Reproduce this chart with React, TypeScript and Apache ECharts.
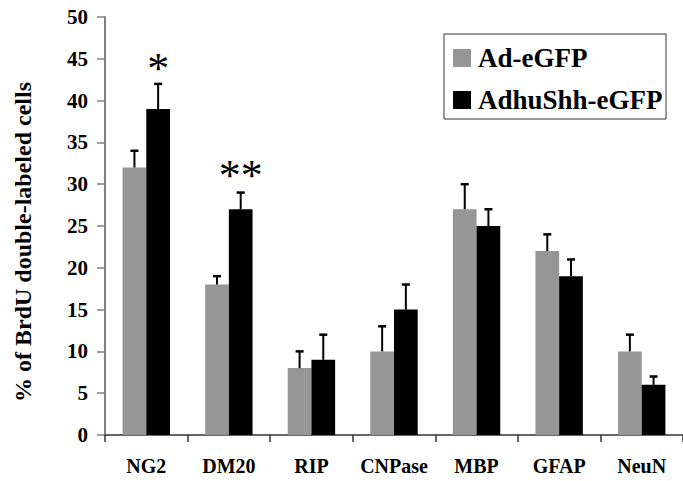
import React, { useEffect, useRef } from "react";
import * as echarts from "echarts";

const categories = ["NG2", "DM20", "RIP", "CNPase", "MBP", "GFAP", "NeuN"];
const seriesNames = ["Ad-eGFP", "AdhuShh-eGFP"];
const adEgfp = [32, 18, 8, 10, 27, 22, 10];
const adEgfpErr = [2, 1, 2, 3, 3, 2, 2];
const shhEgfp = [39, 27, 9, 15, 25, 19, 6];
const shhEgfpErr = [3, 2, 3, 3, 2, 2, 1];
const sigMarks = ["*", "**", "", "", "", "", ""];
const sigLevels = [44.5, 31.7, 0, 0, 0, 0, 0];
const yTicks = [0, 5, 10, 15, 20, 25, 30, 35, 40, 45, 50];
const yTitle = "% of BrdU double-labeled cells";

const F = "Liberation Serif";
const BAR_FRAC = 0.287;
const COLORS = ["#969696", "#000000"];

function baseOption() {
  const errData: any[] = [];
  categories.forEach((_, i) => {
    errData.push([i, adEgfp[i], adEgfp[i] + adEgfpErr[i], -1]);
    errData.push([i, shhEgfp[i], shhEgfp[i] + shhEgfpErr[i], 1]);
  });
  return {
    animation: false,
    grid: { left: 105, right: -8, top: 17, bottom: 46, containLabel: false },
    xAxis: {
      type: "category",
      data: categories,
      axisLine: { lineStyle: { color: "#333", width: 1.5 } },
      axisTick: { show: true, length: 7, lineStyle: { color: "#333", width: 1.5 } },
      axisLabel: { show: false },
      splitLine: { show: false },
    },
    yAxis: {
      type: "value",
      min: yTicks[0],
      max: yTicks[yTicks.length - 1],
      interval: yTicks[1] - yTicks[0],
      axisLine: { show: true, lineStyle: { color: "#808080", width: 2 } },
      axisTick: { show: true, length: 8, lineStyle: { color: "#808080", width: 1.5 } },
      axisLabel: { show: false },
      splitLine: { show: false },
    },
    series: [
      {
        name: seriesNames[0],
        type: "bar",
        data: adEgfp,
        barWidth: BAR_FRAC * 100 + "%",
        barGap: "0%",
        itemStyle: { color: COLORS[0] },
      },
      {
        name: seriesNames[1],
        type: "bar",
        data: shhEgfp,
        barWidth: BAR_FRAC * 100 + "%",
        barGap: "0%",
        itemStyle: { color: COLORS[1] },
      },
      {
        type: "custom",
        name: "err",
        data: errData,
        encode: { x: 0, y: [1, 2] },
        z: 3,
        renderItem: (params: any, api: any) => {
          const ci = api.value(0);
          const base = api.coord([ci, api.value(1)]);
          const top = api.coord([ci, api.value(2)]);
          const band = api.size([1, 0])[0];
          const x = base[0] + (api.value(3) * band * BAR_FRAC) / 2;
          return {
            type: "group",
            children: [
              { type: "line", shape: { x1: x, y1: base[1], x2: x, y2: top[1] }, style: { stroke: "#000", lineWidth: 2 } },
              { type: "line", shape: { x1: x - 4, y1: top[1], x2: x + 4, y2: top[1] }, style: { stroke: "#000", lineWidth: 2.5 } },
            ],
          };
        },
      },
    ],
  };
}

export default function App() {
  const ref = useRef<HTMLDivElement>(null);
  useEffect(() => {
    document.body.style.margin = "0";
    const el = ref.current!;

    // First pass: measure positions through the chart's own scales
    const probe = echarts.init(el, null, { renderer: "svg" });
    probe.setOption(baseOption());
    const px = (c: number, v: number) => probe.convertToPixel({ gridIndex: 0 }, [c, v]) as number[];
    const band = px(1, 0)[0] - px(0, 0)[0];
    const axisX = px(0, 0)[0] - band / 2;
    const axisY = px(0, 0)[1];
    const g: any[] = [];

    yTicks.forEach((v) => {
      g.push({
        type: "text",
        x: axisX - 17,
        y: px(0, v)[1],
        style: { text: String(v), fontFamily: F, fontWeight: "bold", fontSize: 21, fill: "#000", align: "right", verticalAlign: "middle" },
      });
    });
    categories.forEach((c, i) => {
      g.push({
        type: "text",
        x: px(i, 0)[0],
        y: axisY + 31,
        style: { text: c, fontFamily: F, fontWeight: "bold", fontSize: 20, fill: "#000", align: "center", verticalAlign: "middle" },
      });
      if (sigMarks[i]) {
        const p = px(i, sigLevels[i]);
        const fs = 44;
        g.push({
          type: "text",
          x: p[0] + (band * BAR_FRAC) / 2,
          y: p[1] + 0.13 * fs,
          style: { text: sigMarks[i], fontFamily: F, fontSize: fs, fill: "#000", align: "center", verticalAlign: "middle" },
        });
      }
    });
    probe.dispose();

    // legend
    g.push({
      type: "rect",
      shape: { x: 444, y: 34, width: 222, height: 85 },
      style: { fill: "#fff", stroke: "#333", lineWidth: 1 },
      z: 10,
    });
    seriesNames.forEach((name, k) => {
      const cy = 58 + k * 42;
      g.push({ type: "rect", shape: { x: 453, y: cy - 9, width: 18, height: 18 }, style: { fill: COLORS[k] }, z: 11 });
      g.push({
        type: "text",
        x: 478,
        y: cy,
        z: 11,
        style: { text: name, fontFamily: F, fontWeight: "bold", fontSize: 27, fill: "#000", verticalAlign: "middle" },
      });
    });

    // rotated y-axis title
    g.push({
      type: "text",
      x: 11,
      y: 402,
      rotation: Math.PI / 2,
      style: { text: yTitle, fontFamily: F, fontWeight: "bold", fontSize: 24, fill: "#000" },
    });

    const chart = echarts.init(el, null, { renderer: "svg" });
    chart.setOption({ ...baseOption(), graphic: g });
    return () => chart.dispose();
  }, []);
  return <div ref={ref} style={{ width: 683, height: 481 }} />;
}
